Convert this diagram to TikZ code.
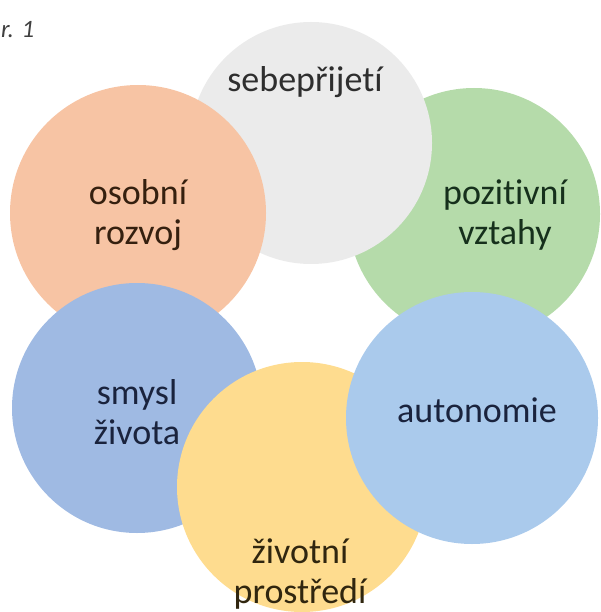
\documentclass[tikz,border=0pt]{standalone}
\usepackage{fontspec}
\setmainfont{Carlito}[Ligatures={NoCommon}]
\begin{document}
\begin{tikzpicture}[x=1pt,y=-1pt,
  circ/.style={circle,minimum size=250pt,inner sep=0pt},
  lbl/.style={font=\fontsize{36}{40}\selectfont,align=center,inner sep=0pt}]
\useasboundingbox (0,0) rectangle (600,612);
\definecolor{cgreen}{HTML}{B5DBAA}
\definecolor{cgray}{HTML}{EBEBEB}
\definecolor{cpeach}{HTML}{F7C4A4}
\definecolor{cblue}{HTML}{9FBAE3}
\definecolor{cyellow}{HTML}{FEDC8F}
\definecolor{clblue}{HTML}{AACAEC}
\definecolor{tgray}{HTML}{2E2E2E}
\definecolor{tbrown}{HTML}{35200F}
\definecolor{tgreen}{HTML}{16301C}
\definecolor{tnavy}{HTML}{1A233D}
\definecolor{tolive}{HTML}{30260F}
\node[circ,fill=cgreen,minimum size=252pt] (green) at (474,214) {};
\node[circ,fill=cgray,minimum size=242pt] (gray) at (311,143) {};
\node[circ,fill=cpeach,minimum size=256pt] (peach) at (138,213) {};
\node[circ,fill=cblue] (blue) at (137,408) {};
\node[circ,fill=cyellow] (yellow) at (302,487) {};
\node[circ,fill=clblue,minimum size=252pt] (lblue) at (472,418) {};
\node[lbl,text=tgray] (t1) at (305,82) {sebepřijetí};
\node[lbl,text=tbrown] (t2) at (138,215) {osobní\\rozvoj};
\node[lbl,text=tgreen] (t3) at (505,215) {pozitivní\\vztahy};
\node[lbl,text=tnavy] (t4) at (137,412) {smysl\\života};
\node[lbl,text=tnavy] (t5) at (477,410) {autonomie};
\node[lbl,text=tolive] (t6) at (300,574) {životní\\prostředí};
\node[font=\fontsize{25}{28}\selectfont\itshape,text=black!75,anchor=west,inner sep=0pt] (cap) at (1,30) {r. 1};
\end{tikzpicture}
\end{document}
